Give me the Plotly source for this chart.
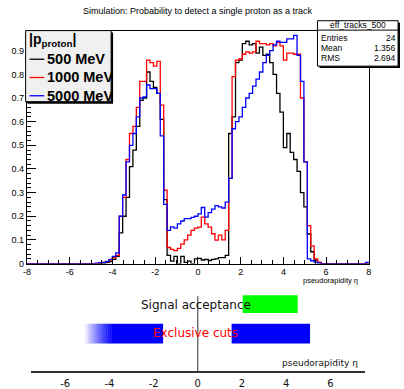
import numpy as np
import plotly.graph_objects as go

W, H = 404, 389

# ---------------- data (100 bins from -8 to 8) ----------------
eta_min, eta_max, n_bins = -8.0, 8.0, 100

black_500 = [
    0, 0, 0, 0, 0, 0, 0, 0, 0, 0,
    0, 0, 0, 0, 0, 0, 0, 0, 0, 0,
    0, 0, 0, 0.004, 0.008, 0.018, 0.03, 0.13, 0.20, 0.28,
    0.41, 0.48, 0.58, 0.69, 0.70, 0.81, 0.77, 0.745, 0.72, 0.61,
    0.27, 0.035, 0.01, 0.03, 0.0, 0.03, 0.005, 0.01, 0.0, 0.02,
    0.022, 0.015, 0.018, 0.013, 0.018, 0.02, 0.025, 0.025, 0.035, 0.55,
    0.62, 0.85, 0.86, 0.93, 0.94, 0.925, 0.93, 0.89, 0.915, 0.88,
    0.885, 0.85, 0.80, 0.72, 0.64, 0.49, 0.55, 0.47, 0.44, 0.39,
    0.30, 0.24, 0.125, 0.05, 0.015, 0.003, 0, 0, 0, 0,
    0, 0, 0, 0, 0, 0, 0, 0, 0, 0,
]

red_1000 = [
    0, 0, 0, 0, 0, 0, 0, 0, 0, 0,
    0, 0, 0, 0, 0, 0, 0, 0, 0, 0,
    0, 0.003, 0.005, 0.008, 0.015, 0.025, 0.035, 0.20, 0.28, 0.44,
    0.55, 0.58, 0.66, 0.77, 0.77, 0.86, 0.85, 0.835, 0.855, 0.67,
    0.31, 0.068, 0.06, 0.055, 0.064, 0.082, 0.10, 0.12, 0.14, 0.15,
    0.154, 0.196, 0.168, 0.154, 0.126, 0.099, 0.12, 0.10, 0.14, 0.36,
    0.79, 0.86, 0.865, 0.885, 0.895, 0.89, 0.895, 0.94, 0.93, 0.93,
    0.925, 0.93, 0.92, 0.935, 0.92, 0.86, 0.89, 0.89, 0.885, 0.885,
    0.70, 0.43, 0.16, 0.075, 0.02, 0.006, 0, 0, 0, 0,
    0, 0, 0, 0, 0, 0, 0, 0, 0, 0,
]

blue_5000 = [
    0, 0, 0, 0, 0, 0, 0, 0, 0, 0,
    0, 0, 0, 0, 0, 0, 0, 0, 0, 0,
    0.002, 0.004, 0.005, 0.009, 0.018, 0.03, 0.045, 0.20, 0.29, 0.43,
    0.50, 0.55, 0.62, 0.70, 0.705, 0.755, 0.74, 0.74, 0.72, 0.54,
    0.25, 0.14, 0.155, 0.15, 0.168, 0.18, 0.19, 0.19, 0.195, 0.20,
    0.21, 0.237, 0.196, 0.215, 0.23, 0.245, 0.24, 0.235, 0.26, 0.36,
    0.57, 0.60, 0.62, 0.66, 0.70, 0.72, 0.75, 0.78, 0.81, 0.85,
    0.88, 0.90, 0.925, 0.94, 0.935, 0.935, 0.95, 0.95, 0.965, 0.88,
    0.77, 0.43, 0.02, 0.012, 0.006, 0.003, 0, 0, 0, 0,
    0, 0, 0, 0, 0, 0, 0, 0, 0, 0.005,
]

series_names = ["500 MeV", "1000 MeV", "5000 MeV"]
series_values = [black_500, red_1000, blue_5000]
series_colors = ["#000000", "#ff0000", "#0000ff"]

x_tickvals = [-8, -6, -4, -2, 0, 2, 4, 6, 8]
x_ticktext = ["-8", "-6", "-4", "-2", "0", "2", "4", "6", "8"]
y_tickvals = [0, 0.1, 0.2, 0.3, 0.4, 0.5, 0.6, 0.7, 0.8, 0.9]
y_ticktext = ["0", "0.1", "0.2", "0.3", "0.4", "0.5", "0.6", "0.7", "0.8", "0.9"]

title_text = "Simulation: Probability to detect a single proton as a track"
x_title = "pseudorapidity \u03b7"
stats_title = "eff_tracks_500"
stats_labels = ["Entries", "Mean", "RMS"]
stats_values = ["24", "1.356", "2.694"]
legend_header = "<b>|p<sub>proton</sub>|</b>"

# lower pad (acceptance sketch)
low_tickvals = [-6, -4, -2, 0, 2, 4, 6]
low_ticktext = ["-6", "-4", "-2", "0", "2", "4", "6"]
signal_band = [2.03, 4.52]
excl_left_fade = [-5.15, -3.9]
excl_left_solid = [-3.9, -1.57]
excl_right = [1.53, 5.08]

# ---------------- helpers ----------------
def px(x):
    return x / W

def py(y):
    return 1 - y / H

def y2(yp):
    return (376 - yp) / 96.0

edges = np.linspace(eta_min, eta_max, n_bins + 1)

fig = go.Figure()
for name, vals, col in zip(series_names, series_values, series_colors):
    fig.add_trace(go.Scatter(
        x=edges, y=list(vals) + [vals[-1]], mode="lines", name=name,
        line=dict(shape="hv", color=col, width=1.3),
        xaxis="x", yaxis="y", showlegend=False, hoverinfo="skip"))

fig.add_trace(go.Scatter(x=[0], y=[0], mode="markers", marker=dict(opacity=0),
                         xaxis="x2", yaxis="y2", showlegend=False, hoverinfo="skip"))

font_h = "Liberation Sans, Arial, Helvetica, sans-serif"
font_d = "DejaVu Sans, sans-serif"

shapes = []
ann = []

ann.append(dict(text=title_text, x=px(197), y=py(11), xref="paper", yref="paper",
                showarrow=False, xanchor="center", yanchor="middle",
                font=dict(family=font_h, size=9, color="#000")))
ann.append(dict(text=x_title, x=px(362), y=py(284.5), xref="paper", yref="paper",
                showarrow=False, xanchor="right", yanchor="middle",
                font=dict(family=font_h, size=7.5, color="#000")))

# ---- legend box ----
lx0, ly0, lx1, ly1 = 22, 31, 109, 103
shapes.append(dict(type="rect", xref="paper", yref="paper", layer="above",
                   x0=px(lx0 + 2), x1=px(lx1 + 2), y0=py(ly1 + 2), y1=py(ly0 + 2),
                   fillcolor="#000", line=dict(width=0)))
shapes.append(dict(type="rect", xref="paper", yref="paper", layer="above",
                   x0=px(lx0), x1=px(lx1), y0=py(ly1), y1=py(ly0),
                   fillcolor="#f0f0f0", line=dict(color="#000", width=1)))
ann.append(dict(text=legend_header, x=px(23), y=py(41), xref="paper", yref="paper",
                showarrow=False, xanchor="left", yanchor="middle",
                font=dict(family=font_h, size=14, color="#000")))
entry_y = [60, 78.5, 97]
for name, col, ey in zip(series_names, series_colors, entry_y):
    shapes.append(dict(type="line", xref="paper", yref="paper", layer="above",
                       x0=px(26), x1=px(41), y0=py(ey), y1=py(ey),
                       line=dict(color=col, width=1.3)))
    ann.append(dict(text="<b>" + name + "</b>", x=px(42), y=py(ey), xref="paper", yref="paper",
                    showarrow=False, xanchor="left", yanchor="middle",
                    font=dict(family=font_h, size=14.5, color="#000")))

# ---- stats box ----
sx0, sy0, sx1, sy1 = 319, 21, 401, 67
shapes.append(dict(type="rect", xref="paper", yref="paper", layer="above",
                   x0=px(sx0 + 2), x1=px(sx1 + 2), y0=py(sy1 + 2), y1=py(sy0 + 2),
                   fillcolor="#000", line=dict(width=0)))
shapes.append(dict(type="rect", xref="paper", yref="paper", layer="above",
                   x0=px(sx0), x1=px(sx1), y0=py(sy1), y1=py(sy0),
                   fillcolor="#fff", line=dict(color="#000", width=1)))
shapes.append(dict(type="line", xref="paper", yref="paper", layer="above",
                   x0=px(sx0), x1=px(sx1), y0=py(30.5), y1=py(30.5),
                   line=dict(color="#000", width=1)))
ann.append(dict(text=stats_title, x=px((sx0 + sx1) / 2), y=py(25.8), xref="paper", yref="paper",
                showarrow=False, xanchor="center", yanchor="middle",
                font=dict(family=font_h, size=8.5, color="#000")))
for lab, val, ry in zip(stats_labels, stats_values, [39, 48.7, 58.3]):
    ann.append(dict(text=lab, x=px(321), y=py(ry), xref="paper", yref="paper",
                    showarrow=False, xanchor="left", yanchor="middle",
                    font=dict(family=font_h, size=8.5, color="#000")))
    ann.append(dict(text=val, x=px(401), y=py(ry), xref="paper", yref="paper",
                    showarrow=False, xanchor="right", yanchor="middle",
                    font=dict(family=font_h, size=8.5, color="#000")))

# ---- lower pad ----
shapes.append(dict(type="rect", xref="x2", yref="y2", layer="below",
                   x0=signal_band[0], x1=signal_band[1], y0=y2(317), y1=y2(299),
                   fillcolor="#00ff00", line=dict(width=0)))
nf = 14
for i in range(nf):
    a = excl_left_fade[0] + (excl_left_fade[1] - excl_left_fade[0]) * i / nf
    b = excl_left_fade[0] + (excl_left_fade[1] - excl_left_fade[0]) * (i + 1) / nf
    shapes.append(dict(type="rect", xref="x2", yref="y2", layer="below",
                       x0=a, x1=b + 0.01, y0=y2(348), y1=y2(328),
                       fillcolor="#0000ff", opacity=(i + 0.5) / nf, line=dict(width=0)))
shapes.append(dict(type="rect", xref="x2", yref="y2", layer="below",
                   x0=excl_left_solid[0], x1=excl_left_solid[1], y0=y2(348), y1=y2(328),
                   fillcolor="#0000ff", line=dict(width=0)))
shapes.append(dict(type="rect", xref="x2", yref="y2", layer="below",
                   x0=excl_right[0], x1=excl_right[1], y0=y2(348), y1=y2(328),
                   fillcolor="#0000ff", line=dict(width=0)))
shapes.append(dict(type="line", xref="x2", yref="y2", layer="above",
                   x0=0, x1=0, y0=0, y1=y2(300),
                   line=dict(color="#333", width=1)))
ann.append(dict(text="Signal acceptance", x=px(195), y=py(308.5), xref="paper", yref="paper",
                showarrow=False, xanchor="center", yanchor="middle",
                font=dict(family=font_d, size=12, color="#111")))
ann.append(dict(text="Exclusive cuts", x=px(195), y=py(337.5), xref="paper", yref="paper",
                showarrow=False, xanchor="center", yanchor="middle",
                font=dict(family=font_d, size=12, color="#ff0000")))
ann.append(dict(text=x_title, x=px(362), y=py(368), xref="paper", yref="paper",
                showarrow=False, xanchor="right", yanchor="middle",
                font=dict(family=font_d, size=9, color="#111")))

fig.update_layout(
    width=W, height=H, margin=dict(l=0, r=0, t=0, b=0),
    paper_bgcolor="#fff", plot_bgcolor="#fff", showlegend=False,
    xaxis=dict(domain=[23.3 / W, 371.3 / W], range=[eta_min, eta_max], anchor="y",
               tickvals=x_tickvals, ticktext=x_ticktext, ticks="inside", ticklen=7,
               tickcolor="#000", tickwidth=1,
               minor=dict(ticks="inside", ticklen=3.5, dtick=0.5, tick0=0, tickcolor="#000"),
               showline=True, mirror=True, linecolor="#000", linewidth=1,
               showgrid=False, zeroline=False,
               tickfont=dict(family=font_h, size=9, color="#000")),
    yaxis=dict(domain=[1 - 267 / H, 1 - 31 / H], range=[0, 0.985], anchor="x",
               tickvals=y_tickvals, ticktext=y_ticktext, ticks="inside", ticklen=9,
               tickcolor="#000", tickwidth=1,
               minor=dict(ticks="inside", ticklen=4.5, dtick=0.02, tick0=0, tickcolor="#000"),
               showline=True, mirror=True, linecolor="#000", linewidth=1,
               showgrid=False, zeroline=False,
               tickfont=dict(family=font_h, size=9, color="#000")),
    xaxis2=dict(domain=[27 / W, 367 / W], range=[-7.57, 7.55], anchor="y2",
                tickvals=low_tickvals, ticktext=low_ticktext, ticks="",
                ticklabelstandoff=2,
                showline=True, linecolor="#333", linewidth=2,
                showgrid=False, zeroline=False,
                tickfont=dict(family=font_d, size=10, color="#111")),
    yaxis2=dict(domain=[1 - 376 / H, 1 - 280 / H], range=[0, 1], anchor="x2",
                visible=False, showgrid=False, zeroline=False),
    shapes=shapes, annotations=ann,
)

fig.write_html("out.html",
               config={"displayModeBar": False, "staticPlot": True},
               post_script="document.body.style.margin='0';document.body.style.overflow='hidden';")
